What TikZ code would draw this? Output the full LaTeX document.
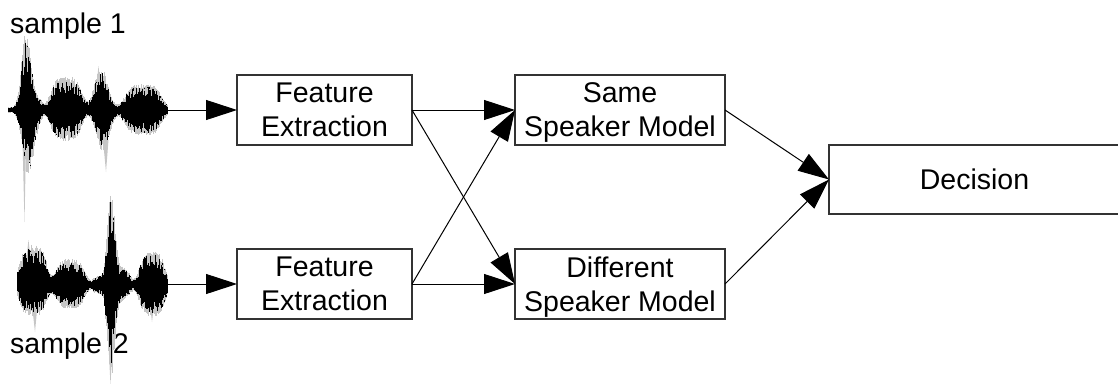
\documentclass[tikz,border=0pt]{standalone}
\usepackage{fontspec}
\newfontfamily\labelfont{Liberation Sans}
\usetikzlibrary{arrows.meta}
% zero the depth of a line so every box centres its text alike
\newcommand\flatdepth[1]{\raisebox{0pt}[\height][0pt]{#1}}
% envelope helpers: a gaussian bump and a flat-topped bump
\newcommand\bmp[3]{exp(-(min(3,abs(#1-(#2))/(#3)))^2)}
\newcommand\flt[3]{exp(-(min(2,abs(#1-(#2))/(#3)))^4)}
\begin{document}
\begin{tikzpicture}[x=1pt,y=-1pt,
  lab/.style={font=\labelfont\fontsize{28.5}{34}\selectfont, inner sep=0pt},
  blk/.style={draw=black!80, line width=1.1pt, inner sep=0pt, outer sep=0pt,
    align=center, font=\labelfont\fontsize{28.5}{34}\selectfont,
    minimum height=70pt},
  conn/.style={line width=1pt, -{Triangle[length=31pt,width=20pt]}},
  wvg/.style={gray!45, line width=0.75pt},
  wvb/.style={black, line width=0.75pt},
  tail/.style={fill=gray!45}]
\useasboundingbox (0,0) rectangle (1118,383);
\clip (0,0) rectangle (1118,383);

% ---- labels of the two recordings
\node[lab, anchor=base west] (s1) at (10,33) {sample 1};
\node[lab, anchor=base west] (s2) at (10,353) {sample\hspace{3pt} 2};

% ---- waveform of sample 1
\fill[tail] (22,120) -- (24.5,222) -- (26.5,120) -- cycle;
\fill[tail] (24,100) -- (26,42) -- (28.5,100) -- cycle;
\fill[tail] (96,90) -- (98.5,66) -- (101,90) -- cycle;
\fill[tail] (103,140) -- (106,172) -- (108.5,140) -- cycle;
\pgfmathsetseed{11}
\foreach \x in {8,8.5,...,167} {
  \pgfmathsetmacro\T{2.5+58*\bmp{\x}{26}{6}+12*\flt{\x}{30}{12}+28*\flt{\x}{66}{17}+36*\bmp{\x}{101}{9}+21*\flt{\x}{143}{20}}
  \pgfmathsetmacro\Bt{2.5+46*\bmp{\x}{28}{7}+12*\flt{\x}{30}{12}+26*\flt{\x}{66}{17}+36*\bmp{\x}{103}{9}+21*\flt{\x}{143}{20}}
  \pgfmathsetmacro\ra{0.85+0.25*rnd}
  \pgfmathsetmacro\rb{0.85+0.25*rnd}
  \pgfmathsetmacro\rc{0.55+0.45*rnd}
  \pgfmathsetmacro\rd{0.55+0.45*rnd}
  \draw[wvg] (\x,{110-\T*\ra}) -- (\x,{110+\Bt*\rb});
  \draw[wvb] (\x,{110-\T*\rc}) -- (\x,{110+\Bt*\rd});
}
\coordinate (w1) at (167,110);

% ---- waveform of sample 2
\fill[tail] (26,262) -- (28.5,240) -- (31,262) -- cycle;
\fill[tail] (32,305) -- (35,332) -- (37.5,305) -- cycle;
\fill[tail] (109,230) -- (111,203) -- (113,230) -- cycle;
\fill[tail] (108.5,345) -- (110.5,385) -- (112.5,345) -- cycle;
\fill[tail] (150,305) -- (152,322) -- (154,305) -- cycle;
\foreach \x in {17,17.5,...,167} {
  \pgfmathsetmacro\T{2.5+34*\flt{\x}{33}{15}+21*\flt{\x}{70}{16}+5*\flt{\x}{97}{5}+68*\bmp{\x}{111}{5}+14*\flt{\x}{117}{14}+28*\flt{\x}{152}{14}}
  \pgfmathsetmacro\Bt{2.5+26*\flt{\x}{33}{15}+19*\flt{\x}{70}{16}+5*\flt{\x}{97}{5}+70*\bmp{\x}{111}{5}+12*\flt{\x}{117}{14}+26*\flt{\x}{152}{14}}
  \pgfmathsetmacro\ra{0.85+0.25*rnd}
  \pgfmathsetmacro\rb{0.85+0.25*rnd}
  \pgfmathsetmacro\rc{0.55+0.45*rnd}
  \pgfmathsetmacro\rd{0.55+0.45*rnd}
  \draw[wvg] (\x,{285-\T*\ra}) -- (\x,{285+\Bt*\rb});
  \draw[wvb] (\x,{285-\T*\rc}) -- (\x,{285+\Bt*\rd});
}
\coordinate (w2) at (167,284);

% ---- processing blocks
\node[blk, minimum width=175pt] (fe1) at (324.5,110) {Feature\\\flatdepth{Extraction}};
\node[blk, minimum width=175pt] (fe2) at (324.5,284) {Feature\\\flatdepth{Extraction}};
\node[blk, minimum width=210pt] (same) at (620,110) {Same\\\flatdepth{Speaker Model}};
\node[blk, minimum width=210pt] (diff) at (620,284) {Different\\\flatdepth{Speaker Model}};
\node[blk, minimum width=291pt, minimum height=69pt] (dec) at (974.5,179.5) {Decision};

% ---- connections
\draw[conn] (w1) -- (fe1.west);
\draw[conn] (w2) -- (fe2.west);
\draw[conn] (fe1.east) -- (same.west);
\draw[conn] (fe1.east) -- (diff.west);
\draw[conn] (fe2.east) -- (same.west);
\draw[conn] (fe2.east) -- (diff.west);
\draw[conn] (same.east) -- (dec.west);
\draw[conn] (diff.east) -- (dec.west);
\end{tikzpicture}
\end{document}
